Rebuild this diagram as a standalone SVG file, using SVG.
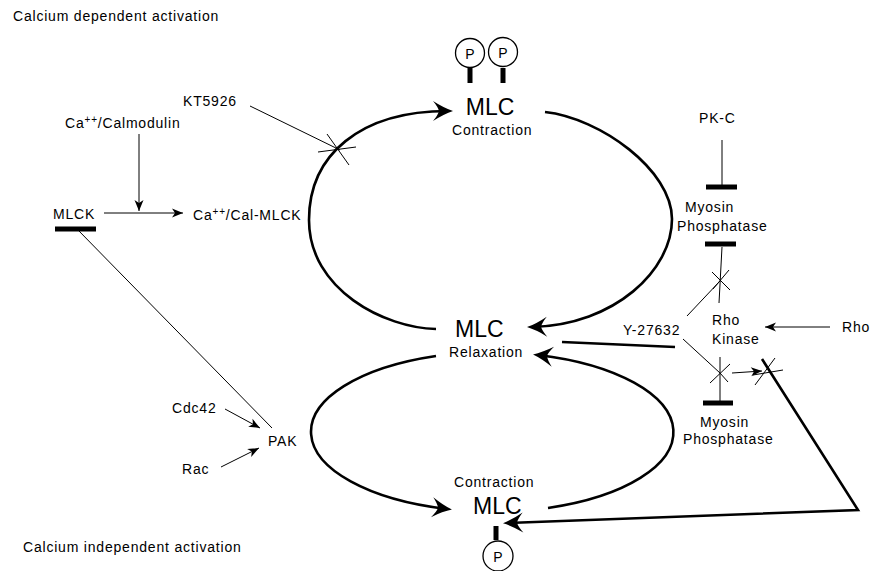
<svg xmlns="http://www.w3.org/2000/svg" width="870" height="571" viewBox="0 0 870 571">
<style>
text{font-family:"Liberation Sans",Arial,sans-serif;font-size:14px;letter-spacing:0.8px;fill:#000}
.big{font-size:23px;letter-spacing:0}
.p{font-size:14px;letter-spacing:0;text-anchor:middle}
.sup{font-size:10px}
.thin{fill:none;stroke:#000;stroke-width:1}
.thick{fill:none;stroke:#000;stroke-width:2.6}
.bar{stroke:#000;stroke-width:5}
.circ{fill:#fff;stroke:#000;stroke-width:1.3}
.ah{marker-end:url(#big)}
.sa{marker-end:url(#small)}
</style>
<defs>
<marker id="big" markerUnits="userSpaceOnUse" viewBox="-26 -12 28 24" markerWidth="28" markerHeight="24" refX="-5" refY="0" orient="auto">
<path d="M0,0 Q-9,-3 -20,-10 Q-15,-4 -14,0 Q-15,4 -20,10 Q-9,3 0,0 Z" fill="#000"/>
</marker>
<marker id="small" markerUnits="userSpaceOnUse" viewBox="-13 -6 14 12" markerWidth="14" markerHeight="12" refX="0" refY="0" orient="auto">
<path d="M0,0 L-11,-4.5 L-8,0 L-11,4.5 Z" fill="#000"/>
</marker>
</defs>

<g id="labels">
<text x="13" y="21">Calcium dependent activation</text>
<text x="23" y="552">Calcium independent activation</text>
</g>

<g id="connectors">
<!-- upper loop -->
<path class="thick ah" d="M436,329 C385,328 309,290 309,220 C309,155 360,111 448,111"/>
<path class="thick ah" d="M545,112 C600,118 672,170 672,219 C672,270 615,325 532,327"/>
<!-- lower loop -->
<path class="thick ah" d="M436,356 A184,80 0 0 0 447,509"/>
<path class="thick ah" d="M548,508 A184,80 0 0 0 538,355"/>
<!-- Y-27632 to relaxation -->
<path class="thick" d="M562,342 L675,347"/>
<!-- long path to bottom MLC -->
<path class="thick ah" d="M762,359 L858,510 L508,523"/>
<!-- KT5926 -->
<path class="thin" d="M250,106 L340,150"/>
<path class="thin" d="M318,152 L356,147 M327,134 L349,165"/>
<!-- Ca/Calmodulin -->
<path class="thin sa" d="M139,134 L139,211"/>
<path class="thin sa" d="M104,213 L183,213"/>
<!-- MLCK to PAK -->
<path class="thin" d="M78,230 L272,428"/>
<path class="thin sa" d="M225,409 L260,428"/>
<path class="thin sa" d="M221,467 L259,448"/>
<!-- PK-C -->
<path class="thin" d="M722,140 L722,186"/>
<path class="bar" d="M706,187 L737,187"/>
<path class="bar" d="M705,244 L736,244"/>
<path class="thin" d="M722,247 L719,303"/>
<!-- Y-27632 upper -->
<path class="thin" d="M687,316 L720,281"/>
<path class="thin" d="M712,272 L730,290 M713,289 L729,270"/>
<!-- Y-27632 lower -->
<path class="thin" d="M683,339 L720,373"/>
<path class="thin" d="M710,383 L730,364 M720,373 L728,382"/>
<path class="thin" d="M720,357 L720,401"/>
<path class="bar" d="M703,403 L733,403"/>
<path class="thin sa" d="M732,373 L762,371"/>
<path class="thin" d="M755,385 L775,358 M753,375 L783,370"/>
<!-- Rho -> Rho Kinase -->
<path class="thin sa" d="M830,327 L765,327"/>
</g>

<g id="node-mlc-top">
<circle class="circ" cx="470" cy="53" r="14.5"/>
<circle class="circ" cx="503" cy="52" r="14.5"/>
<text class="p" x="470" y="59">P</text>
<text class="p" x="503" y="58">P</text>
<rect x="467.5" y="68" width="5" height="15" fill="#000"/>
<rect x="500.5" y="68" width="5" height="15" fill="#000"/>
<text class="big" x="490" y="115" text-anchor="middle">MLC</text>
<text x="452" y="135">Contraction</text>
</g>

<g id="node-kt5926"><text x="183" y="106">KT5926</text></g>
<g id="node-calmodulin"><text x="65" y="128">Ca<tspan class="sup" dy="-5">++</tspan><tspan dy="5">/Calmodulin</tspan></text></g>
<g id="node-mlck">
<text x="53" y="219">MLCK</text>
<path class="bar" d="M55,229 L96,229"/>
</g>
<g id="node-cal-mlck"><text x="193" y="220">Ca<tspan class="sup" dy="-5">++</tspan><tspan dy="5">/Cal-MLCK</tspan></text></g>

<g id="node-pkc"><text x="699" y="123">PK-C</text></g>
<g id="node-mp-upper">
<text x="685" y="212">Myosin</text>
<text x="677" y="231">Phosphatase</text>
</g>

<g id="node-mlc-relax">
<text class="big" x="455" y="337">MLC</text>
<text x="449" y="357">Relaxation</text>
</g>

<g id="node-y27632"><text x="623" y="335">Y-27632</text></g>
<g id="node-rho-kinase">
<text x="712" y="325">Rho</text>
<text x="712" y="344">Kinase</text>
</g>
<g id="node-rho"><text x="842" y="332">Rho</text></g>
<g id="node-mp-lower">
<text x="700" y="427">Myosin</text>
<text x="683" y="444">Phosphatase</text>
</g>

<g id="node-cdc42"><text x="172" y="413">Cdc42</text></g>
<g id="node-pak"><text x="268" y="446">PAK</text></g>
<g id="node-rac"><text x="182" y="474">Rac</text></g>

<g id="node-mlc-bottom">
<text x="454" y="487">Contraction</text>
<text class="big" x="473" y="514">MLC</text>
<rect x="493.5" y="526" width="5" height="14" fill="#000"/>
<circle class="circ" cx="498" cy="556" r="15"/>
<text class="p" x="498" y="562">P</text>
</g>
</svg>
